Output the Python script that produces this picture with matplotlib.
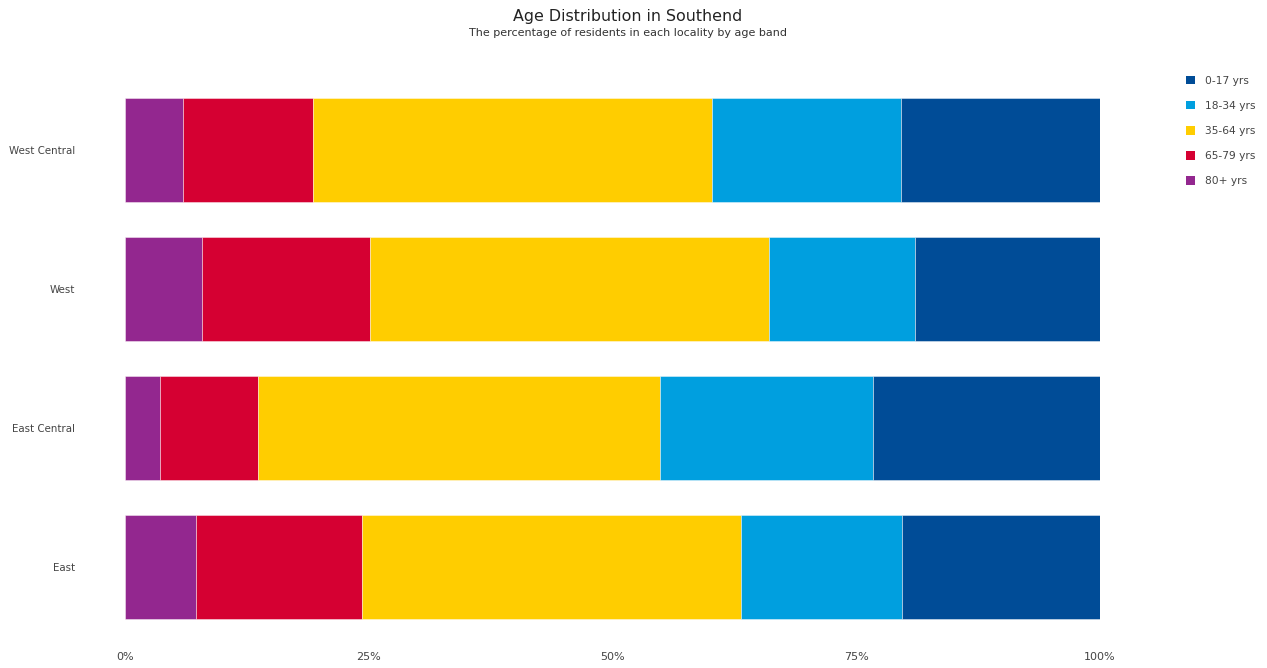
import matplotlib.pyplot as plt
from matplotlib.patches import Patch
from matplotlib.ticker import FuncFormatter

# localities, top to bottom
localities = ["West Central", "West", "East Central", "East"]

# share of residents (%) per age band, stacked from the left
pct_80_plus = [5.95, 7.9, 3.55, 7.3]
pct_65_79 = [13.3, 17.2, 10.1, 17.0]
pct_35_64 = [41.0, 41.0, 41.2, 38.9]
pct_18_34 = [19.3, 14.9, 21.9, 16.5]
pct_0_17 = [20.45, 19.0, 23.25, 20.3]

bands = ["80+ yrs", "65-79 yrs", "35-64 yrs", "18-34 yrs", "0-17 yrs"]
series = [pct_80_plus, pct_65_79, pct_35_64, pct_18_34, pct_0_17]
colors = ["#93278f", "#d50032", "#ffcd00", "#009fdf", "#004c97"]

W, H = 1267, 668
fig = plt.figure(figsize=(W / 100, H / 100), dpi=100)
ax = fig.add_axes([125 / W, 31.5 / H, 975 / W, 556 / H])

ypos = list(range(len(localities)))
left = [0.0] * len(localities)
for name, vals, col in zip(bands, series, colors):
    ax.barh(ypos, vals, left=left, height=0.75, color=col,
            edgecolor=(1, 1, 1, 0.5), linewidth=0.6, label=name)
    left = [l + v for l, v in zip(left, vals)]

ax.set_xlim(0, 100)
ax.set_ylim(len(localities) - 0.5, -0.5)
ax.set_yticks(ypos)
ax.set_yticklabels(localities)
ax.set_xticks([0, 25, 50, 75, 100])
ax.xaxis.set_major_formatter(FuncFormatter(lambda v, _: f"{v:.0f}%"))
ax.tick_params(axis="both", length=0, labelsize=8, colors="#444444")
ax.tick_params(axis="y", pad=36, labelsize=7.4)
ax.tick_params(axis="x", pad=11)
for s in ax.spines.values():
    s.set_visible(False)

fig.text(628 / W, 1 - 17 / H, "Age Distribution in Southend",
         ha="center", va="center", fontsize=11.4, color="#222222")
fig.text(628 / W, 1 - 33 / H, "The percentage of residents in each locality by age band",
         ha="center", va="center", fontsize=8, color="#333333")

handles = [Patch(facecolor=c, edgecolor="none") for c in colors][::-1]
fig.legend(handles, bands[::-1], loc="upper left",
           bbox_to_anchor=(1176 / W, 1 - 66 / H), frameon=False,
           fontsize=7.7, handlelength=0.85, handleheight=0.85,
           handletextpad=1.0, labelspacing=1.42, labelcolor="#444444")

fig.savefig("out.png", dpi=100)
